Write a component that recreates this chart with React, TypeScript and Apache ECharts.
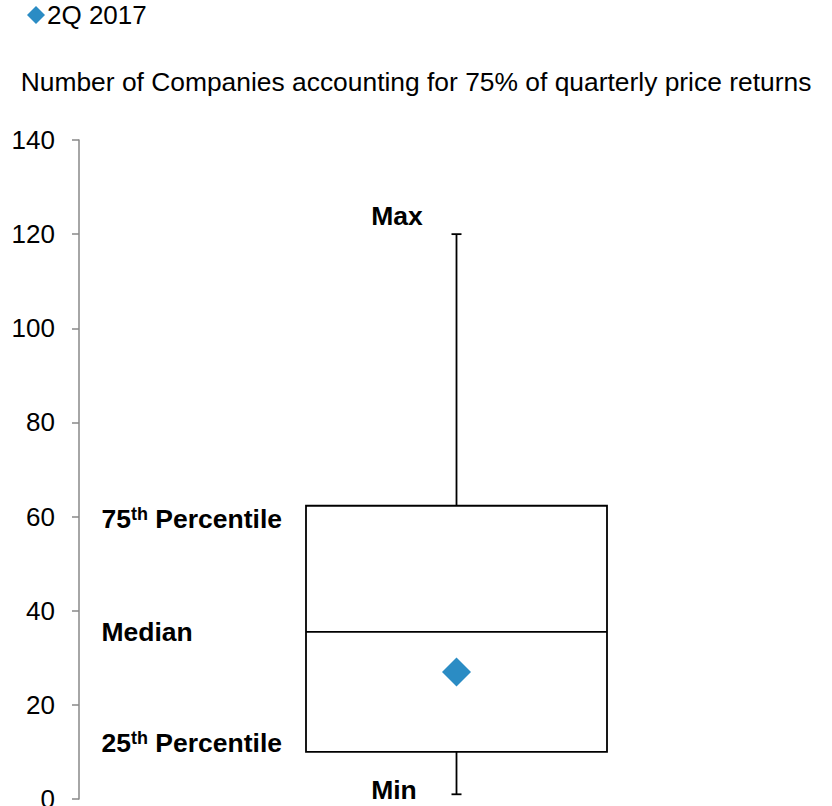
import React, { useEffect, useRef } from "react";
import * as echarts from "echarts";

const categories = ["2Q 2017"];
const minValues = [1];
const q1Values = [10];
const medianValues = [35.5];
const q3Values = [62.3];
const maxValues = [120];
const quarterValues = [27];
const seriesName = "2Q 2017";
const chartTitle = "Number of Companies accounting for 75% of quarterly price returns";
const yTicks = { min: 0, max: 140, interval: 20 };

const FONT = "Liberation Sans, Arial, sans-serif";

export default function App() {
  const ref = useRef<HTMLDivElement>(null);
  useEffect(() => {
    if (!ref.current) return;
    const chart = echarts.init(ref.current, undefined, { renderer: "svg" });
    const boxData = categories.map((c, i) => [
      i,
      minValues[i],
      q1Values[i],
      medianValues[i],
      q3Values[i],
      maxValues[i],
    ]);
    const halfW = 150.5;
    const capHalf = 5;
    const lineStyle = { stroke: "#000", lineWidth: 1.8, fill: "none" };
    const boldFont = `bold 26.5px ${FONT}`;
    const rich = {
      n: { fontFamily: FONT, fontSize: 26.5, fontWeight: "bold", fill: "#000" },
      s: { fontFamily: FONT, fontSize: 18, fontWeight: "bold", fill: "#000", padding: [0, 0, 9, 0] },
    };
    const option: any = {
      animation: false,
      textStyle: { fontFamily: FONT },
      title: {
        text: chartTitle,
        left: "center",
        top: 69,
        padding: 0,
        textStyle: { fontSize: 26.4, fontWeight: "normal", color: "#000", fontFamily: FONT },
      },
      legend: {
        left: 27,
        top: 2,
        padding: 0,
        icon: "diamond",
        itemWidth: 18,
        itemHeight: 18,
        data: [seriesName],
        textStyle: { fontSize: 26, color: "#000", fontFamily: FONT, padding: [0, 0, 0, -3] },
      },
      grid: { left: 79, top: 140, height: 659, width: 755, outerBoundsMode: "none", containLabel: false },
      xAxis: { type: "category", data: categories, show: false },
      yAxis: {
        type: "value",
        min: yTicks.min,
        max: yTicks.max,
        interval: yTicks.interval,
        splitLine: { show: false },
        axisLine: { show: true, lineStyle: { color: "#888", width: 1.5 } },
        axisTick: { show: true, length: 7, lineStyle: { color: "#888", width: 1.5 } },
        axisLabel: { fontSize: 26, color: "#000", margin: 24, fontFamily: FONT },
      },
      series: [
        {
          type: "custom",
          name: "box",
          data: boxData,
          silent: true,
          z: 1,
          renderItem: (params: any, api: any) => {
            const x = api.value(0);
            const pMin = api.coord([x, api.value(1)]);
            const pQ1 = api.coord([x, api.value(2)]);
            const pMed = api.coord([x, api.value(3)]);
            const pQ3 = api.coord([x, api.value(4)]);
            const pMax = api.coord([x, api.value(5)]);
            const cx = pMed[0];
            return {
              type: "group",
              children: [
                { type: "rect", shape: { x: cx - halfW, y: pQ3[1], width: 2 * halfW, height: pQ1[1] - pQ3[1] }, style: { ...lineStyle, fill: "#fff" } },
                { type: "line", shape: { x1: cx - halfW, y1: pMed[1], x2: cx + halfW, y2: pMed[1] }, style: lineStyle },
                { type: "line", shape: { x1: cx, y1: pQ3[1], x2: cx, y2: pMax[1] }, style: lineStyle },
                { type: "line", shape: { x1: cx - capHalf, y1: pMax[1], x2: cx + capHalf, y2: pMax[1] }, style: lineStyle },
                { type: "line", shape: { x1: cx, y1: pQ1[1], x2: cx, y2: pMin[1] }, style: lineStyle },
                { type: "line", shape: { x1: cx - capHalf, y1: pMin[1], x2: cx + capHalf, y2: pMin[1] }, style: lineStyle },
                { type: "text", x: cx - 59.5, y: pMax[1] - 18, style: { text: "Max", font: boldFont, fill: "#000", align: "center", verticalAlign: "middle" } },
                { type: "text", x: cx - 62.5, y: pMin[1] - 4, style: { text: "Min", font: boldFont, fill: "#000", align: "center", verticalAlign: "middle" } },
                { type: "text", x: cx - 355, y: pMed[1], style: { text: "Median", font: boldFont, fill: "#000", align: "left", verticalAlign: "middle" } },
                { type: "text", x: cx - 355, y: pQ3[1] + 13, style: { text: "{n|75}{s|th}{n| Percentile}", rich, align: "left", verticalAlign: "middle" } },
                { type: "text", x: cx - 355, y: pQ1[1] - 9, style: { text: "{n|25}{s|th}{n| Percentile}", rich, align: "left", verticalAlign: "middle" } },
              ],
            };
          },
        },
        {
          type: "scatter",
          name: seriesName,
          data: categories.map((c, i) => [i, quarterValues[i]]),
          symbol: "diamond",
          symbolSize: 29,
          itemStyle: { color: "#2B8CC4", opacity: 1 },
          z: 3,
        },
      ],
    };
    chart.setOption(option);
    return () => chart.dispose();
  }, []);
  return (
    <div
      ref={ref}
      style={{ position: "fixed", left: 0, top: 0, width: 832, height: 806, background: "#fff" }}
    />
  );
}
